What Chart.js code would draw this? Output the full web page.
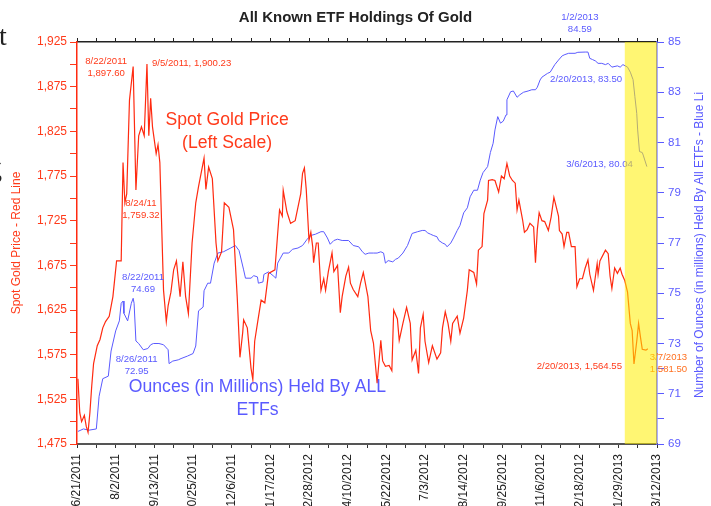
<!DOCTYPE html>
<html>
<head>
<meta charset="utf-8">
<script src="https://cdn.jsdelivr.net/npm/chart.js@4.4.1/dist/chart.umd.min.js"></script>
<style>
    body { margin: 0; background: #ffffff; }
    #wrap { position: relative; width: 711px; height: 506px; overflow: hidden; }
    .stray { position: absolute; font-family: "Liberation Serif", serif; font-size: 28px; color: #222; }
</style>
</head>
<body>
<div id="wrap">
    <canvas id="chart_GoldETF" width="711" height="506"></canvas>
    <span class="stray" style="left:-1px; top:20px;">t</span>
    <span class="stray" style="left:-12px; top:152px;">g</span>
</div>
<script>
// ****************************************************************** //
// chart_GoldETF --- All known ETF holdings of gold vs spot gold price //
// ****************************************************************** //

// x values are days counted from 6/21/2011
const startDate = [2011, 5, 21];

const goldDay = [
    1, 3, 5, 8, 10, 12, 14, 16, 18, 22, 25, 28, 31, 35, 39, 43, 48, 50, 52, 54,
    57, 61, 64, 67, 70, 73, 76, 78, 80, 82, 86, 88, 90, 94, 97, 99, 102, 105, 108, 112,
    115, 118, 121, 125, 129, 132, 138, 140, 143, 147, 151, 153, 157, 160, 165, 170, 174, 177, 180, 181,
    185, 189, 191, 193, 196, 200, 204, 208, 215, 218, 220, 223, 224, 228, 232, 237, 243, 245, 247, 249,
    252, 254, 256, 257, 260, 262, 265, 268, 270, 273, 277, 279, 283, 286, 288, 292, 295, 297, 300, 305,
    308, 311, 316, 319, 322, 326, 330, 332, 335, 339, 342, 344, 348, 350, 354, 358, 362, 364, 368, 371,
    373, 376, 378, 382, 386, 391, 395, 397, 400, 403, 406, 408, 413, 416, 420, 424, 426, 431, 434, 436,
    440, 442, 446, 447, 451, 454, 458, 461, 464, 467, 470, 473, 476, 478, 480, 484, 486, 489, 492, 496,
    498, 500, 502, 505, 508, 512, 515, 518, 523, 524, 527, 529, 532, 534, 537, 541, 543, 546, 549, 552,
    555, 557, 561, 565, 566, 568, 574, 577, 579, 581, 584, 587, 590, 592, 595, 598, 601, 603, 605, 608,
    610, 612, 614, 618, 620,
];
const goldPrice = [
    1548, 1510, 1500, 1507, 1495, 1488, 1510, 1540, 1565, 1585, 1592, 1605, 1612, 1618, 1640, 1680, 1680, 1790, 1745, 1755,
    1860, 1897.6, 1759.32, 1820, 1830, 1820, 1900.23, 1820, 1862, 1830, 1800, 1810, 1790, 1647, 1612, 1630, 1645, 1670, 1680, 1640,
    1679, 1640, 1621, 1700, 1745, 1763, 1795, 1760, 1785, 1772, 1700, 1680, 1690, 1745, 1740, 1715, 1640, 1572, 1600, 1614,
    1605, 1560, 1547, 1590, 1610, 1636, 1633, 1666, 1670, 1711, 1737, 1730, 1759, 1735, 1722, 1725, 1755, 1778, 1784, 1760,
    1703, 1712, 1696, 1678, 1700, 1700, 1647, 1660, 1647, 1668, 1689, 1668, 1675, 1622, 1640, 1663, 1673, 1655, 1648, 1640,
    1655, 1667, 1640, 1602, 1588, 1543, 1591, 1568, 1562, 1563, 1557, 1625, 1615, 1591, 1610, 1628, 1610, 1569, 1580, 1554,
    1605, 1620, 1590, 1566, 1585, 1570, 1577, 1605, 1623, 1610, 1590, 1610, 1618, 1599, 1616, 1647, 1670, 1667, 1654, 1692,
    1696, 1733, 1748, 1770, 1771, 1770, 1757, 1775, 1772, 1789, 1775, 1770, 1767, 1737, 1748, 1726, 1712, 1715, 1722, 1718,
    1678, 1715, 1734, 1725, 1724, 1714, 1729, 1751, 1730, 1714, 1710, 1696, 1712, 1712, 1696, 1696, 1651, 1660, 1660, 1672,
    1681, 1665, 1647, 1677, 1665, 1680, 1692, 1688, 1663, 1649, 1672, 1666, 1672, 1665, 1658, 1645, 1610, 1602, 1564.55, 1590,
    1610, 1595, 1581, 1580, 1581.5,
];

const etfDay = [
    1, 7, 13, 21, 24, 28, 34, 37, 42, 46, 48, 50, 51, 55, 59, 61, 62, 64, 67, 72,
    77, 80, 83, 89, 94, 99, 100, 104, 110, 113, 120, 126, 129, 132, 137, 138, 142, 145, 149, 153,
    159, 167, 172, 176, 181, 183, 189, 192, 196, 197, 202, 203, 208, 213, 216, 218, 221, 224, 230, 234,
    240, 245, 250, 254, 259, 265, 268, 272, 275, 279, 283, 288, 295, 300, 306, 310, 313, 317, 322, 326,
    330, 333, 335, 338, 343, 346, 349, 354, 359, 364, 370, 375, 378, 381, 384, 387, 391, 393, 397, 400,
    402, 406, 409, 413, 416, 420, 424, 427, 431, 435, 438, 441, 446, 449, 452, 454, 457, 460, 463, 466,
    467, 471, 474, 478, 481, 485, 490, 494, 498, 500, 503, 505, 511, 514, 519, 523, 527, 530, 534, 541,
    544, 552, 555, 557, 560, 563, 566, 570, 574, 577, 581, 587, 590, 593, 598, 601, 604, 606, 608, 609,
    611, 614, 615, 619,
];
const etfOunces = [
    69.5, 69.6, 69.55, 69.6, 70.9, 71.6, 71.7, 72.7, 73.5, 73.9, 74.6, 74.69, 74.2, 73.9, 74.6, 74.8, 74.6, 73.1, 73.0, 72.75,
    72.8, 72.95, 73.0, 73.0, 72.95, 72.75, 72.2, 72.3, 72.35, 72.4, 72.5, 72.6, 72.9, 74.3, 74.45, 75.1, 75.4, 75.4, 76.2, 76.6,
    76.65, 76.8, 76.9, 76.7, 75.93, 75.6, 75.6, 75.7, 75.65, 75.4, 75.45, 75.75, 75.85, 75.7, 75.6, 76.2, 76.4, 76.6, 76.6, 76.75,
    76.8, 76.9, 77.15, 77.3, 77.35, 77.45, 77.45, 77.2, 76.95, 77.1, 77.15, 77.1, 77.1, 76.9, 76.85, 76.65, 76.55, 76.6, 76.6, 76.6,
    76.65, 76.6, 76.2, 76.3, 76.25, 76.35, 76.4, 76.6, 76.9, 77.38, 77.45, 77.5, 77.5, 77.4, 77.35, 77.3, 77.25, 77.1, 77.0, 76.95,
    76.85, 77.0, 77.2, 77.5, 77.7, 78.2, 78.4, 78.84, 79.1, 79.1, 79.5, 79.8, 80.04, 80.6, 80.97, 81.5, 82.03, 81.77, 81.85, 82.1,
    82.7, 83.02, 83.05, 82.8, 82.9, 83.0, 83.05, 83.1, 83.1, 83.2, 83.49, 83.6, 83.75, 83.8, 84.1, 84.28, 84.45, 84.5, 84.55, 84.55,
    84.59, 84.6, 84.6, 84.35, 84.3, 84.25, 84.15, 84.15, 84.1, 84.15, 84.0, 84.05, 84.0, 84.1, 84.0, 83.8, 83.5, 82.82, 82.16, 81.5,
    80.64, 80.6, 80.5, 80.04,
];

// axis ranges
const dayMin = 0;
const dayMax = 630;
const priceMin = 1475;
const priceMax = 1925;
const ouncesMin = 69;
const ouncesMax = 85;

// shaded recent period (days)
const highlightFrom = 595;

// point callouts: [text lines, day, value, axis, dx, dy, align, color]
const callouts = [
    [["8/22/2011", "1,897.60"], 61, 1897.6, "y", -27, -5, "center", "#ff3a1a"],
    [["9/5/2011, 1,900.23"], 76, 1900.23, "y", 5, -1, "left", "#ff3a1a"],
    [["8/24/11", "1,759.32"], 64, 1759.32, "y", 5, 13, "center", "#ff3a1a"],
    [["2/20/2013, 1,564.55"], 605, 1564.55, "y", -12, 2, "right", "#ff3a1a"],
    [["3/7/2013", "1,581.50"], 620, 1581.5, "y", 2, 8, "left", "#ff7020"],
    [["8/22/2011", "74.69"], 50, 74.69, "y1", 20, -24, "center", "#5a5aff"],
    [["8/26/2011", "72.95"], 80, 72.95, "y1", -14, 15, "center", "#5a5aff"],
    [["1/2/2013", "84.59"], 544, 84.59, "y1", 2, -35, "center", "#5a5aff"],
    [["2/20/2013, 83.50"], 604, 83.5, "y1", -11, 0, "right", "#5a5aff"],
    [["3/6/2013, 80.04"], 619, 80.04, "y1", -14, -2, "right", "#5a5aff"],
];

// series captions inside the plot: [text lines, day, value, axis, color]
const captions = [
    [["Spot Gold Price", "(Left Scale)"], 163, 1838, "y", "#ff3a1a"],
    [["Ounces (in Millions) Held By ALL", "ETFs"], 196, 71.27, "y1", "#5a5aff"],
];

const rightTitle = "Number of Ounces (in millions) Held By All ETFs - Blue Li";

function dayLabel(v) {
    const d = new Date(Date.UTC(startDate[0], startDate[1], startDate[2] + v));
    return (d.getUTCMonth() + 1) + "/" + d.getUTCDate() + "/" + d.getUTCFullYear();
}

Chart.defaults.font.family = "'Liberation Sans', Arial, sans-serif";

const textPlugin = {
    id: "textPlugin",
    afterDatasetsDraw(chart) {
        const { ctx, chartArea, scales } = chart;
        ctx.save();
        ctx.textBaseline = "middle";
        ctx.font = "9.6px 'Liberation Sans', Arial, sans-serif";
        callouts.forEach(([lines, day, value, axis, dx, dy, align, color]) => {
            const px = scales.x.getPixelForValue(day) + dx;
            const py = scales[axis].getPixelForValue(value) + dy;
            ctx.fillStyle = color;
            ctx.textAlign = align;
            lines.forEach((t, i) => ctx.fillText(t, px, py + i * 12));
        });
        ctx.font = "17.6px 'Liberation Sans', Arial, sans-serif";
        ctx.textAlign = "center";
        captions.forEach(([lines, day, value, axis, color]) => {
            const px = scales.x.getPixelForValue(day);
            const py = scales[axis].getPixelForValue(value);
            ctx.fillStyle = color;
            lines.forEach((t, i) => ctx.fillText(t, px, py + i * 23));
        });

        // yellow band laid over the last weeks
        const x0 = scales.x.getPixelForValue(highlightFrom);
        ctx.fillStyle = "rgba(255, 238, 0, 0.55)";
        ctx.fillRect(x0, chartArea.top, chartArea.right - x0, chartArea.bottom - chartArea.top);

        // right axis title reads bottom to top
        ctx.font = "12px 'Liberation Sans', Arial, sans-serif";
        ctx.fillStyle = "#5a5aff";
        ctx.translate(700, 245);
        ctx.rotate(-Math.PI / 2);
        ctx.fillText(rightTitle, 0, 0);
        ctx.restore();
    },
};

const ctx = document.getElementById("chart_GoldETF").getContext("2d");
const chart_GoldETF = new Chart(ctx, {
    type: "line",
    data: {
        datasets: [
            {
                label: "Spot Gold Price",
                data: goldDay.map((d, i) => ({ x: d, y: goldPrice[i] })),
                borderColor: "#ff2a10", // Red line
                borderWidth: 1.2,
                pointRadius: 0,
                tension: 0,
                yAxisID: "y",
            },
            {
                label: "ETF Ounces",
                data: etfDay.map((d, i) => ({ x: d, y: etfOunces[i] })),
                borderColor: "#5a5aff", // Blue line
                borderWidth: 1,
                pointRadius: 0,
                tension: 0,
                yAxisID: "y1",
            },
        ],
    },
    options: {
        responsive: false,
        animation: false,
        devicePixelRatio: 1,
        layout: { padding: 0 },
        plugins: {
            legend: { display: false },
            tooltip: { enabled: false },
            title: {
                display: true,
                text: "All Known ETF Holdings Of Gold",
                color: "#222222",
                font: { size: 15, weight: "bold" },
                padding: { top: 9, bottom: 5 },
            },
        },
        scales: {
            x: {
                type: "linear",
                position: "bottom",
                min: dayMin,
                max: dayMax,
                afterFit: (scale) => { scale.height = 62; },
                ticks: {
                    stepSize: 21,
                    autoSkip: false,
                    maxRotation: 90,
                    minRotation: 90,
                    padding: 6,
                    color: "#222222",
                    font: { size: 12 },
                    callback: (v) => (v % 42 === 0 ? dayLabel(v) : ""),
                },
                grid: { drawOnChartArea: false, tickLength: 4, color: "#333333" },
                border: { color: "#555555", width: 2 },
            },
            x2: {
                type: "linear",
                position: "top",
                min: dayMin,
                max: dayMax,
                afterFit: (scale) => { scale.height = 10; },
                ticks: { stepSize: 21, display: false },
                grid: { drawOnChartArea: false, tickLength: 4, color: "#222222" },
                border: { color: "#222222", width: 1.5 },
            },
            y: {
                type: "linear",
                position: "left",
                min: priceMin,
                max: priceMax,
                afterFit: (scale) => { scale.width = 77; },
                ticks: {
                    stepSize: 25,
                    autoSkip: false,
                    padding: 3,
                    color: "#ff3a1a",
                    font: { size: 12 },
                    callback: (v) => ((v - priceMin) % 50 === 0 ? v.toLocaleString("en-US") : ""),
                },
                title: {
                    display: true,
                    text: "Spot Gold Price - Red Line",
                    color: "#ff3a1a",
                    font: { size: 12 },
                    padding: { top: 9, bottom: 0 },
                },
                grid: { drawOnChartArea: false, tickLength: 7, color: "#ff3a1a" },
                border: { color: "#ff2a10", width: 1.5 },
            },
            y1: {
                type: "linear",
                position: "right",
                min: ouncesMin,
                max: ouncesMax,
                afterFit: (scale) => { scale.width = 54; },
                ticks: {
                    stepSize: 1,
                    autoSkip: false,
                    padding: 4,
                    color: "#5a5aff",
                    font: { size: 11.5 },
                    callback: (v) => ((v - ouncesMin) % 2 === 0 ? String(v) : ""),
                },
                grid: { drawOnChartArea: false, tickLength: 7, color: "#5a5aff" },
                border: { color: "#5a5aff", width: 1.5 },
            },
        },
    },
    plugins: [textPlugin],
});
</script>
</body>
</html>
